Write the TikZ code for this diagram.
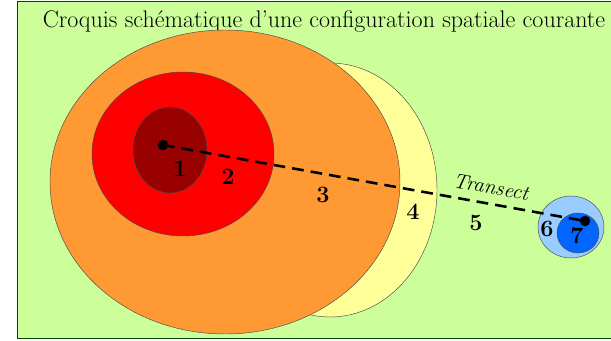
\documentclass[tikz,border=0pt]{standalone}
\usepackage{tikz}
\usetikzlibrary{positioning}
\definecolor{pale}{RGB}{204,255,153}
\definecolor{sand}{RGB}{255,255,153}
\definecolor{ochre}{RGB}{255,153,51}
\definecolor{hotred}{RGB}{255,0,0}
\definecolor{darkred}{RGB}{153,0,0}
\definecolor{skyblue}{RGB}{153,204,255}
\definecolor{deepblue}{RGB}{0,102,255}

\begin{document}
\begin{tikzpicture}[x=0.03cm, y=-0.03cm,
    zone/.style={draw=black!70, line width=0.4pt, fill=#1},
    dot/.style={circle, fill=black, inner sep=0pt, minimum size=9pt},
    transect/.style={dashed, dash pattern=on 10pt off 6pt, line width=2.2pt},
    num/.style={font=\fontsize{20}{22}\selectfont\bfseries},
    title/.style={font=\fontsize{20.5}{24}\selectfont}
  ]
    \useasboundingbox (0,0) rectangle (611,341);
    \fill[pale] (17,1) rectangle (620,338);
    \draw[black!55!green!60!black, line width=0.8pt] (620,1) -- (17,1) -- (17,338) -- (620,338);

    \node[title] (titre) at (324,22) {Croquis schématique d'une configuration spatiale courante};

    % zones concentriques
    \draw[zone=sand] (330,190) ellipse [x radius=107, y radius=127];
    \draw[zone=ochre] (225,182) ellipse [x radius=175, y radius=152];
    \draw[zone=hotred] (183,154) ellipse [x radius=91, y radius=82];
    \draw[zone=darkred] (170,150) ellipse [x radius=37, y radius=43];
    \draw[zone=skyblue] (571,227) ellipse [x radius=33, y radius=31];
    \draw[zone=deepblue] (578,233) ellipse [x radius=21, y radius=20];

    \node[dot] (depart) at (163,145) {};
    \node[dot] (arrivee) at (585,221) {};
    \draw[transect] (depart.center) -- (arrivee.center)
      node[pos=0.77, sloped, above=6pt, inner sep=1pt, font=\fontsize{18}{20}\selectfont\itshape] (nom) {Transect};

    \node[num] (z1) at (180,169) {1};
    \node[num] (z2) at (228,177) {2};
    \node[num] (z3) at (323,195) {3};
    \node[num] (z4) at (413,212) {4};
    \node[num] (z5) at (476,223) {5};
    \node[num] (z6) at (547,229) {6};
    \node[num] (z7) at (577,236) {7};
  \end{tikzpicture}
\end{document}
